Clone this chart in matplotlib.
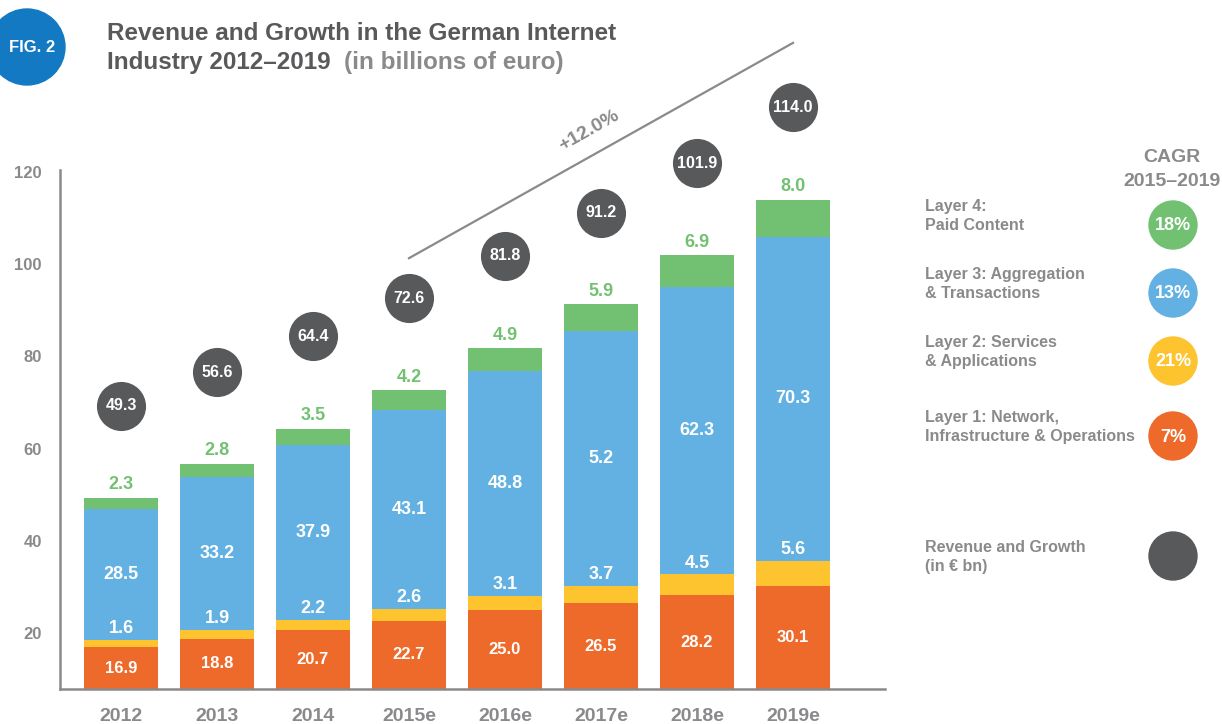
import matplotlib.pyplot as plt
from matplotlib.patches import Circle

plt.rcParams['font.family'] = ['Liberation Sans', 'DejaVu Sans']
plt.rcParams['font.weight'] = 'bold'

# Daten (Mrd. Euro)
years = ['2012', '2013', '2014', '2015e', '2016e', '2017e', '2018e', '2019e']
layer1 = [16.9, 18.8, 20.7, 22.7, 25.0, 26.5, 28.2, 30.1]
layer2 = [1.6, 1.9, 2.2, 2.6, 3.1, 3.7, 4.5, 5.6]
layer3 = [28.5, 33.2, 37.9, 43.1, 48.8, 55.2, 62.3, 70.3]
layer3_labels = ['28.5', '33.2', '37.9', '43.1', '48.8', '5.2', '62.3', '70.3']
layer4 = [2.3, 2.8, 3.5, 4.2, 4.9, 5.9, 6.9, 8.0]
totals = [49.3, 56.6, 64.4, 72.6, 81.8, 91.2, 101.9, 114.0]
yticks = [20, 40, 60, 80, 100, 120]

legend_labels = ['Layer 4:\nPaid Content', 'Layer 3: Aggregation\n& Transactions',
                 'Layer 2: Services\n& Applications',
                 'Layer 1: Network,\nInfrastructure & Operations']
cagr = ['18%', '13%', '21%', '7%']
trend_start, trend_end = 101.3, 148.0  # Trendlinie 2015e -> 2019e

ORANGE = '#ee6a2a'
YELLOW = '#fdc42f'
BLUE = '#62b1e2'
GREEN = '#72c172'
DARK = '#58595b'
GREY = '#8a8a8d'
FIGBLUE = '#1379c2'

W, H = 1222, 724
fig = plt.figure(figsize=(W / 100, H / 100), dpi=100)

ax = fig.add_axes([60 / W, 35 / H, 825 / W, 689 / H])
ymin, ymax = 7.85, 157.3
ax.set_xlim(-0.635, 7.958)
ax.set_ylim(ymin, ymax)

x = list(range(len(years)))
bw = 0.77
b2 = [a + b for a, b in zip(layer1, layer2)]
b3 = [a + b for a, b in zip(b2, layer3)]
tops = [a + b for a, b in zip(b3, layer4)]

ax.bar(x, layer1, bw, color=ORANGE, zorder=2)
ax.bar(x, layer2, bw, bottom=layer1, color=YELLOW, zorder=2)
ax.bar(x, layer3, bw, bottom=b2, color=BLUE, zorder=2)
ax.bar(x, layer4, bw, bottom=b3, color=GREEN, zorder=2)

for i in x:
    ax.text(i, (ymin + layer1[i]) / 2, f'{layer1[i]:.1f}', ha='center', va='center',
            color='white', fontsize=12, fontweight='bold', zorder=3)
    ax.annotate(f'{layer2[i]:.1f}', (i, b2[i]), xytext=(0, 11), textcoords='offset pixels',
                ha='center', va='center', color='white', fontsize=13, fontweight='bold', zorder=3)
    ax.text(i, b2[i] + layer3[i] / 2, layer3_labels[i], ha='center', va='center',
            color='white', fontsize=13, fontweight='bold', zorder=3)
    ax.annotate(f'{layer4[i]:.1f}', (i, tops[i]), xytext=(0, 13), textcoords='offset pixels',
                ha='center', va='center', color=GREEN, fontsize=13, fontweight='bold')

# Gesamtumsatz als dunkle Kreise
circ_y = [t + 20 for t in totals]
ax.scatter(x, circ_y, s=1250, color=DARK, zorder=3, clip_on=False, linewidths=0)
for i in x:
    ax.text(i, circ_y[i], f'{totals[i]:.1f}', ha='center', va='center', color='white',
            fontsize=11.5, fontweight='bold', zorder=4)

# CAGR-Trendlinie
ax.plot([3, 7], [trend_start, trend_end], color=GREY, lw=1.6, clip_on=False)
ax.text(4.87, 129.0, '+12.0%', rotation=29.4, rotation_mode='anchor', ha='center',
        va='center', color=GREY, fontsize=14, fontweight='bold')

# Achsen
for s in ['top', 'right']:
    ax.spines[s].set_visible(False)
for s in ['left', 'bottom']:
    ax.spines[s].set_color(GREY)
    ax.spines[s].set_linewidth(1.8)
ax.spines['left'].set_bounds(ymin, 120.5)
ax.set_yticks(yticks)
ax.set_yticklabels([str(t) for t in yticks], color=GREY, fontsize=12, fontweight='bold')
ax.set_xticks(x)
ax.set_xticklabels(years, color=GREY, fontsize=14, fontweight='bold')
ax.tick_params(axis='y', length=0, pad=13)
ax.tick_params(axis='x', length=0, pad=14)
ax.patch.set_visible(False)

# Titel, Legende und CAGR-Kreise in Pixelkoordinaten
ov = fig.add_axes([0, 0, 1, 1], zorder=-1)
ov.set_xlim(0, W)
ov.set_ylim(H, 0)
ov.axis('off')

ov.add_patch(Circle((27, 47), 38, color=FIGBLUE))
ov.text(32, 48, 'FIG. 2', color='white', fontsize=12, fontweight='bold', ha='center', va='center')
ov.text(107, 33, 'Revenue and Growth in the German Internet', color=DARK, fontsize=17.5,
        fontweight='bold', va='center')
t1 = ov.text(107, 63, 'Industry 2012\u20132019  ', color=DARK, fontsize=17.5,
             fontweight='bold', va='center')
ov.annotate('(in billions of euro)', xycoords=t1, xy=(1, 0.5), va='center', color=GREY,
            fontsize=17.5, fontweight='bold')

ov.text(1172, 157, 'CAGR', color=GREY, fontsize=14, fontweight='bold', ha='center', va='center')
ov.text(1172, 181, '2015\u20132019', color=GREY, fontsize=14, fontweight='bold',
        ha='center', va='center')

leg_y = [225, 293, 361, 436]
leg_cols = [GREEN, BLUE, YELLOW, ORANGE]
for lbl, val, yy, c in zip(legend_labels, cagr, leg_y, leg_cols):
    ov.text(925, yy - 9, lbl, color=GREY, fontsize=11.5, fontweight='bold', va='center',
            linespacing=1.4)
    ov.add_patch(Circle((1173, yy), 24, color=c))
    ov.text(1173, yy + 1, val, color='white', fontsize=13, fontweight='bold',
            ha='center', va='center')

ov.text(925, 557, 'Revenue and Growth\n(in \u20ac bn)', color=GREY, fontsize=11.5,
        fontweight='bold', va='center', linespacing=1.4)
ov.add_patch(Circle((1173, 556), 24, color=DARK))

fig.savefig('out.png', dpi=100)
